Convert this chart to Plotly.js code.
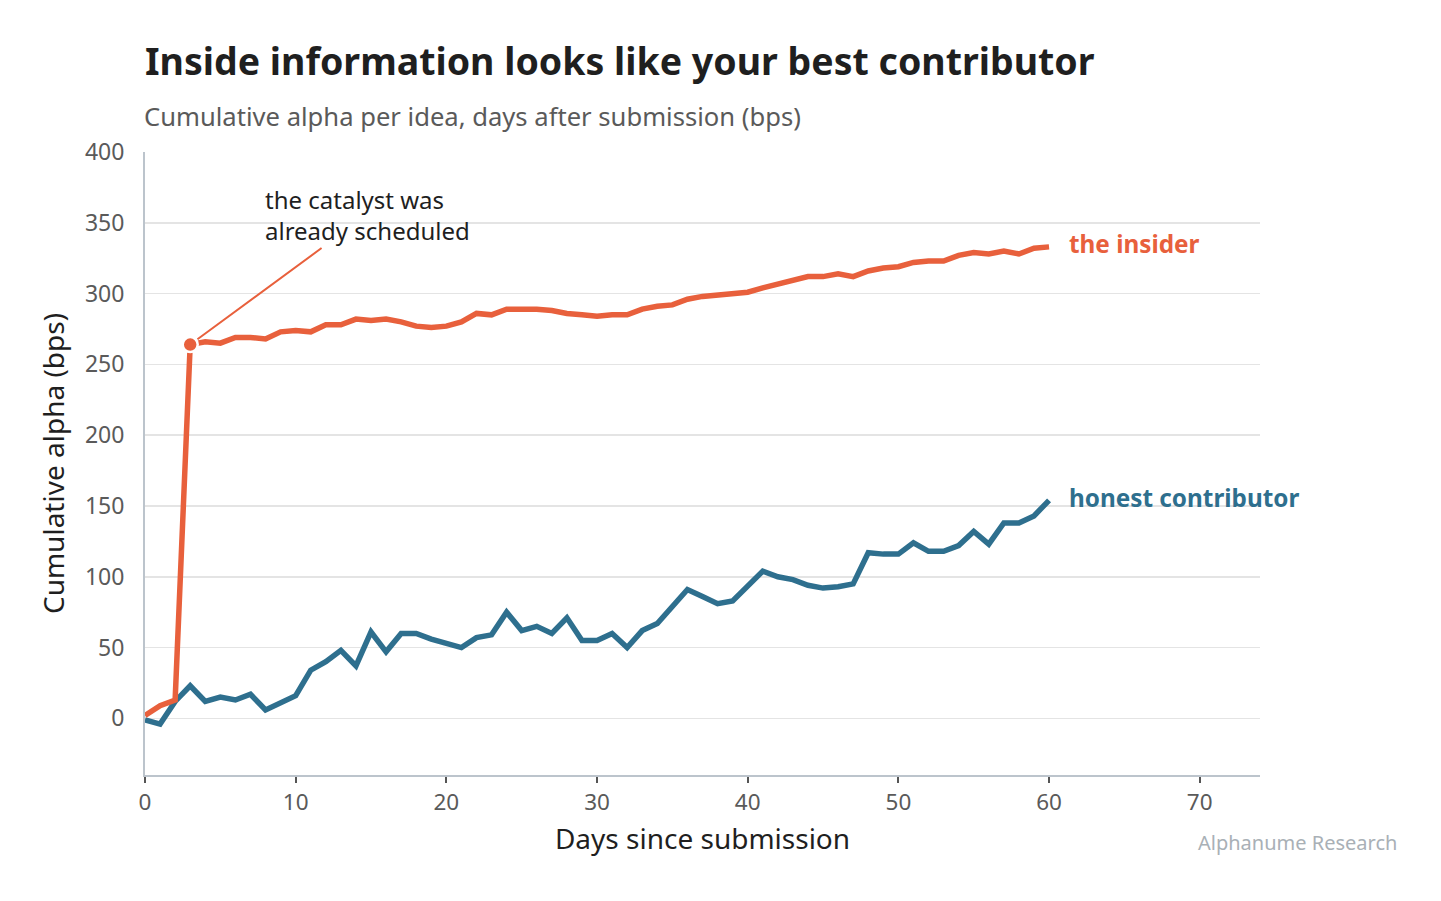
<!DOCTYPE html>
<html>
<head>
<meta charset="utf-8">
<script src="https://cdn.plot.ly/plotly-3.0.1.min.js"></script>
<style>
  html, body { margin: 0; padding: 0; background: #fff; }
  #chart { width: 1441px; height: 901px; }
</style>
</head>
<body>
<div id="chart"></div>
<script>
// Data
const days = [
  0, 1, 2, 3, 4, 5, 6, 7, 8, 9,
  10, 11, 12, 13, 14, 15, 16, 17, 18, 19,
  20, 21, 22, 23, 24, 25, 26, 27, 28, 29,
  30, 31, 32, 33, 34, 35, 36, 37, 38, 39,
  40, 41, 42, 43, 44, 45, 46, 47, 48, 49,
  50, 51, 52, 53, 54, 55, 56, 57, 58, 59, 60
];

const insider = [
  2, 9, 13, 264, 266, 265, 269, 269, 268, 273,
  274, 273, 278, 278, 282, 281, 282, 280, 277, 276,
  277, 280, 286, 285, 289, 289, 289, 288, 286, 285,
  284, 285, 285, 289, 291, 292, 296, 298, 299, 300,
  301, 304, 307, 309, 312, 312, 314, 312, 316, 318,
  319, 322, 323, 323, 327, 329, 328, 330, 328, 332, 333
];

const honest = [
  -1, -4, 12, 23, 12, 15, 13, 17, 6, 11,
  16, 34, 40, 48, 37, 61, 47, 60, 60, 56,
  53, 50, 57, 59, 75, 62, 65, 60, 71, 55,
  55, 60, 50, 62, 67, 79, 91, 86, 81, 83,
  93, 104, 100, 98, 94, 92, 93, 95, 117, 116,
  116, 124, 118, 118, 122, 132, 123, 138, 138, 143, 154
];

const catalystDay = 3;

const COLORS = {
  insider: '#E8603C',
  honest: '#2E6F8E',
  text: '#1f1f1f',
  muted: '#5a5a5a',
  grid: '#e4e4e4',
  axis: '#bcc4cc',
  source: '#a9b0b6'
};

const FONT = '"Noto Sans", "Open Sans", sans-serif';

const traceInsider = {
  x: days,
  y: insider,
  type: 'scatter',
  mode: 'lines',
  line: { color: COLORS.insider, width: 5.5 },
  hoverinfo: 'skip'
};

const traceHonest = {
  x: days,
  y: honest,
  type: 'scatter',
  mode: 'lines',
  line: { color: COLORS.honest, width: 5.5 },
  hoverinfo: 'skip'
};

// highlighted jump point
const traceCatalyst = {
  x: [days[catalystDay]],
  y: [insider[catalystDay]],
  type: 'scatter',
  mode: 'markers',
  marker: { color: COLORS.insider, size: 15, line: { color: '#fff', width: 2.5 } },
  hoverinfo: 'skip'
};

const lastIdx = days.length - 1;

const layout = {
  width: 1441,
  height: 901,
  paper_bgcolor: '#fff',
  plot_bgcolor: '#fff',
  showlegend: false,
  font: { family: FONT, color: COLORS.muted },
  margin: { t: 152, b: 126, l: 145, r: 181 },
  title: {
    text: '<b>Inside information looks like your best contributor</b>',
    font: { size: 37.5, color: COLORS.text, family: FONT },
    x: 145 / 1441,
    xanchor: 'left',
    xref: 'container',
    y: 1 - 62 / 901,
    yanchor: 'middle',
    yref: 'container'
  },
  xaxis: {
    range: [0, 74],
    tickvals: [0, 10, 20, 30, 40, 50, 60, 70],
    ticks: 'outside',
    ticklen: 6,
    tickwidth: 2,
    tickcolor: '#555',
    tickfont: { size: 22.5, color: COLORS.muted },
    showgrid: false,
    zeroline: false,
    showline: true,
    linecolor: COLORS.axis,
    linewidth: 2,
    title: {
      text: 'Days since submission',
      font: { size: 28, color: COLORS.text },
      standoff: 13
    }
  },
  yaxis: {
    range: [-40, 400],
    tickvals: [0, 50, 100, 150, 200, 250, 300, 350, 400],
    ticks: '',
    ticklabelstandoff: 14,
    tickfont: { size: 23, color: COLORS.muted },
    showgrid: true,
    gridcolor: COLORS.grid,
    gridwidth: 1.5,
    zeroline: false,
    showline: true,
    linecolor: COLORS.axis,
    linewidth: 2,
    title: {
      text: 'Cumulative alpha (bps)',
      font: { size: 28, color: COLORS.text },
      standoff: 12
    }
  },
  annotations: [
    {
      text: 'Cumulative alpha per idea, days after submission (bps)',
      xref: 'paper', yref: 'paper',
      x: 0, y: 1,
      xanchor: 'left', yanchor: 'middle',
      xshift: -3, yshift: 36,
      showarrow: false,
      font: { size: 25.6, color: COLORS.muted }
    },
    {
      text: 'the catalyst was<br>already scheduled',
      x: days[catalystDay], y: insider[catalystDay],
      xref: 'x', yref: 'y',
      ax: 177, ay: -130,
      align: 'left',
      showarrow: true,
      arrowhead: 0,
      arrowwidth: 2,
      arrowcolor: COLORS.insider,
      standoff: 9,
      font: { size: 24, color: COLORS.text }
    },
    {
      text: '<b>the insider</b>',
      x: days[lastIdx], y: insider[lastIdx],
      xref: 'x', yref: 'y',
      xanchor: 'left', yanchor: 'middle',
      xshift: 18, yshift: 3,
      showarrow: false,
      font: { size: 24.3, color: COLORS.insider }
    },
    {
      text: '<b>honest contributor</b>',
      x: days[lastIdx], y: honest[lastIdx],
      xref: 'x', yref: 'y',
      xanchor: 'left', yanchor: 'middle',
      xshift: 18, yshift: 3,
      showarrow: false,
      font: { size: 24.3, color: COLORS.honest }
    },
    {
      text: 'Alphanume Research',
      xref: 'paper', yref: 'paper',
      x: (1399 - 145) / (1441 - 145 - 181), y: 0,
      xanchor: 'right', yanchor: 'middle',
      yshift: -67,
      showarrow: false,
      font: { size: 20, color: COLORS.source }
    }
  ]
};

Plotly.newPlot('chart', [traceHonest, traceInsider, traceCatalyst], layout, {
  displayModeBar: false,
  staticPlot: true
});
</script>
</body>
</html>
